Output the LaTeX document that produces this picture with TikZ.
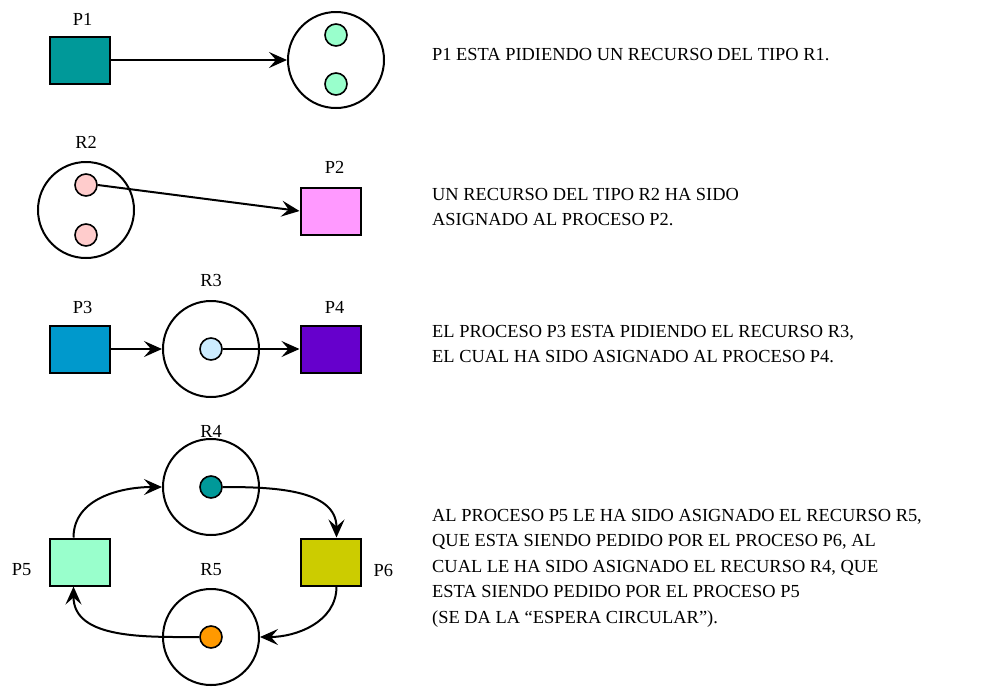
\documentclass[tikz,border=0pt]{standalone}
\usepackage{fontspec}
\setmainfont{Liberation Serif}
\usepackage{xcolor}
\definecolor{TealProc}{HTML}{009999}
\definecolor{MintInst}{HTML}{99FFCC}
\definecolor{RoseInst}{HTML}{FFCCCC}
\definecolor{PinkProc}{HTML}{FF99FF}
\definecolor{BlueProc}{HTML}{0099CC}
\definecolor{VioletProc}{HTML}{6600CC}
\definecolor{SkyInst}{HTML}{CCECFF}
\definecolor{OliveProc}{HTML}{CCCC00}
\definecolor{OrangeInst}{HTML}{FF9900}
\usepackage{tikz}
\usetikzlibrary{arrows.meta, positioning}
\tikzstyle{proc} = [rectangle, draw=black, line width=2pt, minimum width=60pt, minimum height=47pt, inner sep=0pt]
\tikzstyle{res} = [circle, draw=black, line width=2pt, minimum size=96pt, inner sep=0pt]
\tikzstyle{inst} = [circle, draw=black, line width=1.6pt, minimum size=22pt, inner sep=0pt]
\tikzstyle{lbl} = [inner sep=0pt, font=\fontsize{18.4}{20}\selectfont]
\tikzstyle{txt} = [inner sep=0pt, anchor=west, align=left, font=\fontsize{18.4}{25.5}\selectfont]
\tikzstyle{arrow} = [line width=2pt, -{Stealth[length=18pt, width=16pt, inset=7pt]}]

\begin{document}
\begin{tikzpicture}[x=1pt, y=-1pt]
        \useasboundingbox (0,0) rectangle (985,686);
        % Processes
        \node [proc, fill=TealProc] (p1) at (79.5,60) {};
        \node [proc, fill=PinkProc] (p2) at (330.5,211) {};
        \node [proc, fill=BlueProc] (p3) at (79.5,349) {};
        \node [proc, fill=VioletProc] (p4) at (330.5,349) {};
        \node [proc, fill=MintInst] (p5) at (79.5,562) {};
        \node [proc, fill=OliveProc] (p6) at (330.5,562) {};

        % Resources and their instances
        \node [res] (r1) at (336,60) {};
        \node [inst, fill=MintInst] (r1a) at (336,35) {};
        \node [inst, fill=MintInst] (r1b) at (336,84) {};
        \node [res] (r2) at (86,210) {};
        \node [inst, fill=RoseInst] (r2a) at (86,185) {};
        \node [inst, fill=RoseInst] (r2b) at (86,235) {};
        \node [res] (r3) at (211,349) {};
        \node [inst, fill=SkyInst] (r3a) at (211,349) {};
        \node [res] (r4) at (211,487) {};
        \node [inst, fill=TealProc] (r4a) at (211,487) {};
        \node [res] (r5) at (211,637) {};
        \node [inst, fill=OrangeInst] (r5a) at (211,637) {};

        % Labels
        \node [lbl, above=10pt of p1, xshift=3pt] (lp1) {P1};
        \node [lbl, above=12pt of r2] (lr2) {R2};
        \node [lbl, above=13pt of p2, xshift=4pt] (lp2) {P2};
        \node [lbl, above=11pt of p3, xshift=3pt] (lp3) {P3};
        \node [lbl, above=13pt of r3] (lr3) {R3};
        \node [lbl, above=11pt of p4, xshift=4pt] (lp4) {P4};
        \node [lbl, above=0pt of r4] (lr4) {R4};
        \node [lbl, left=17pt of p5, yshift=-8pt] (lp5) {P5};
        \node [lbl, right=12pt of p6, yshift=-8pt] (lp6) {P6};
        \node [lbl, above=12pt of r5] (lr5) {R5};

        % Requests and assignments
        \draw [arrow] (p1) -- (r1);
        \draw [arrow] (r2a.east) -- (p2.west);
        \draw [arrow] (p3) -- (r3);
        \draw [arrow] (r3a) -- (p4);

        % Circular wait
        \draw [arrow] ([xshift=-6pt]p5.north) to [out=90, in=180] (r4.west);
        \draw [arrow] (r4a.east) to [out=0, in=90] ([xshift=6pt]p6.north);
        \draw [arrow] ([xshift=6pt]p6.south) to [out=-90, in=0] (r5.east);
        \draw [arrow] (r5a.west) to [out=180, in=-90] ([xshift=-6pt]p5.south);

        % Descriptions
        \node [txt] (t1) at (432,55) {P1 ESTA PIDIENDO UN RECURSO DEL TIPO R1.};
        \node [txt] (t2) at (432,207) {UN RECURSO DEL TIPO R2 HA SIDO\\ASIGNADO AL PROCESO P2.};
        \node [txt] (t3) at (432,344) {EL PROCESO P3 ESTA PIDIENDO EL RECURSO R3,\\EL CUAL HA SIDO ASIGNADO AL PROCESO P4.};
        \node [txt] (t4) at (432,568) {AL PROCESO P5 LE HA SIDO ASIGNADO EL RECURSO R5,\\QUE ESTA SIENDO PEDIDO POR EL PROCESO P6, AL\\CUAL LE HA SIDO ASIGNADO EL RECURSO R4, QUE\\ESTA SIENDO PEDIDO POR EL PROCESO P5\\(SE DA LA “ESPERA CIRCULAR”).};
    \end{tikzpicture}
\end{document}
